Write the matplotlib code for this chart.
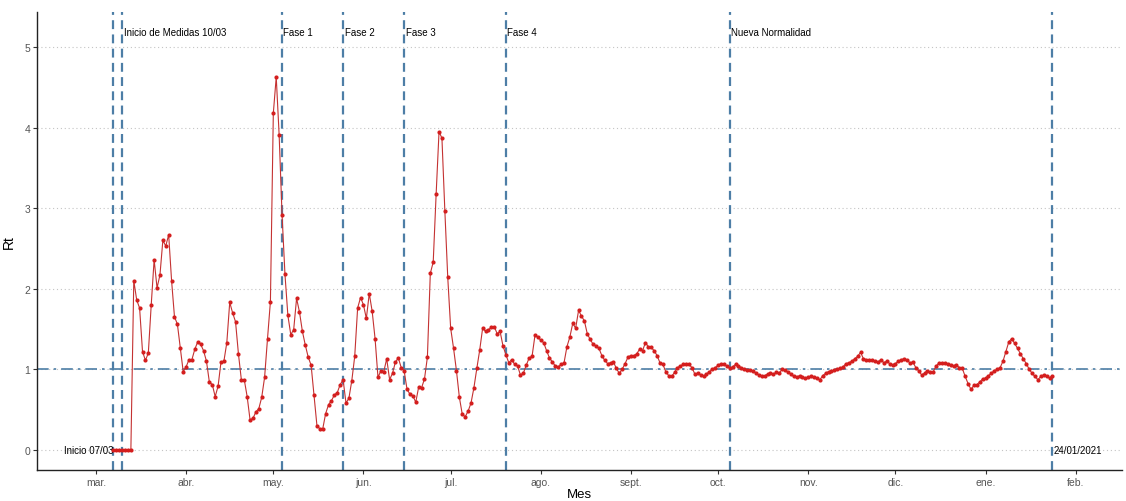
import matplotlib
matplotlib.use("Agg")
import matplotlib.pyplot as plt
import matplotlib.dates as mdates
import numpy as np

plt.rcParams["font.family"] = ["Liberation Sans", "DejaVu Sans"]

# daily Rt estimates, 07/03/2020 -> 24/01/2021
rt_mar = [0, 0, 0, 0, 0, 0, 0,
          2.10, 1.86, 1.76, 1.22, 1.11, 1.20, 1.80, 2.36, 2.01, 2.17, 2.60, 2.53,
          2.67, 2.10, 1.65, 1.56, 1.26, 0.97]
rt_abr = [1.03, 1.12, 1.12, 1.25, 1.34, 1.31, 1.23, 1.10, 0.84, 0.81,
          0.66, 0.79, 1.09, 1.10, 1.33, 1.83, 1.70, 1.59, 1.19, 0.87,
          0.87, 0.66, 0.37, 0.39, 0.47, 0.51, 0.65, 0.90, 1.38, 1.84]
rt_may = [4.18, 4.63, 3.91, 2.92, 2.18, 1.67, 1.43, 1.49, 1.88, 1.71,
          1.47, 1.30, 1.15, 1.05, 0.68, 0.30, 0.26, 0.26, 0.45, 0.56,
          0.61, 0.68, 0.71, 0.81, 0.87, 0.58, 0.64, 0.86, 1.16, 1.76, 1.89]
rt_jun = [1.80, 1.63, 1.94, 1.72, 1.38, 0.90, 0.98, 0.97, 1.13, 0.87,
          0.95, 1.09, 1.14, 1.02, 0.98, 0.75, 0.69, 0.67, 0.59, 0.78,
          0.77, 0.88, 1.15, 2.19, 2.33, 3.17, 3.95, 3.87, 2.97, 2.14]
rt_jul = [1.51, 1.26, 0.98, 0.65, 0.44, 0.41, 0.48, 0.58, 0.77, 1.01,
          1.24, 1.51, 1.47, 1.49, 1.52, 1.53, 1.44, 1.47, 1.29, 1.18,
          1.08, 1.12, 1.06, 1.04, 0.93, 0.95, 1.05, 1.14, 1.16, 1.42, 1.40]
rt_ago = [1.36, 1.33, 1.23, 1.14, 1.09, 1.04, 1.03, 1.06, 1.08, 1.28,
          1.40, 1.57, 1.51, 1.73, 1.66, 1.60, 1.44, 1.37, 1.31, 1.29,
          1.26, 1.17, 1.11, 1.07, 1.08, 1.09, 1.01, 0.95, 1.00, 1.07, 1.15]
rt_sep = [1.17, 1.17, 1.19, 1.25, 1.23, 1.33, 1.28, 1.27, 1.23, 1.17,
          1.08, 1.06, 0.97, 0.92, 0.91, 0.96, 1.02, 1.04, 1.06, 1.06,
          1.06, 1.02, 0.94, 0.95, 0.93, 0.91, 0.94, 0.97, 1.00, 1.02]
rt_oct = [1.05, 1.07, 1.06, 1.04, 1.01, 1.03, 1.06, 1.04, 1.02, 1.00,
          0.99, 0.99, 0.98, 0.95, 0.93, 0.91, 0.92, 0.94, 0.95, 0.94,
          0.96, 0.95, 1.00, 0.99, 0.96, 0.94, 0.91, 0.90, 0.92, 0.90, 0.89]
rt_nov = [0.90, 0.91, 0.90, 0.89, 0.87, 0.92, 0.95, 0.97, 0.98, 0.99,
          1.00, 1.01, 1.03, 1.07, 1.08, 1.10, 1.13, 1.16, 1.21, 1.13,
          1.12, 1.11, 1.11, 1.10, 1.09, 1.12, 1.08, 1.10, 1.07, 1.05]
rt_dic = [1.07, 1.10, 1.12, 1.13, 1.11, 1.08, 1.09, 1.02, 0.98, 0.93,
          0.95, 0.98, 0.97, 0.97, 1.04, 1.08, 1.08, 1.08, 1.07, 1.05,
          1.04, 1.05, 1.02, 1.01, 0.91, 0.82, 0.75, 0.80, 0.81, 0.84, 0.88]
rt_ene = [0.89, 0.92, 0.95, 0.98, 1.00, 1.02, 1.10, 1.22, 1.34, 1.38,
          1.32, 1.26, 1.19, 1.13, 1.07, 1.00, 0.95, 0.91, 0.87, 0.91,
          0.93, 0.91, 0.89, 0.92]

rt = np.array(rt_mar + rt_abr + rt_may + rt_jun + rt_jul + rt_ago + rt_sep
              + rt_oct + rt_nov + rt_dic + rt_ene)
fechas = np.arange(np.datetime64("2020-03-07"), np.datetime64("2021-01-25"))
assert len(fechas) == len(rt)

# key dates (vertical lines) and their labels
eventos = ["2020-03-07", "2020-03-10", "2020-05-04", "2020-05-25",
           "2020-06-15", "2020-07-20", "2020-10-05", "2021-01-24"]
etiquetas_arriba = {"2020-03-10": "Inicio de Medidas 10/03", "2020-05-04": "Fase 1",
                    "2020-05-25": "Fase 2", "2020-06-15": "Fase 3",
                    "2020-07-20": "Fase 4", "2020-10-05": "Nueva Normalidad"}

meses = ["mar.", "abr.", "may.", "jun.", "jul.", "ago.", "sept.", "oct.",
         "nov.", "dic.", "ene.", "feb."]
inicio_mes = np.arange(np.datetime64("2020-03"), np.datetime64("2021-03")).astype("datetime64[D]")

azul = "#4d7ea6"
rojo = "#d41e1e"

fig = plt.figure(figsize=(11.26, 5.02), dpi=100)
ax = fig.add_axes([0.0331, 0.0623, 0.963, 0.9124])

for y in range(6):
    ax.axhline(y, color="#c4c4c4", lw=0.8, ls=(0, (1, 2.5)), zorder=0)

for ev in eventos:
    ax.axvline(np.datetime64(ev), color=azul, lw=1.6, ls=(0, (4, 2.4)), zorder=1)
ax.axhline(1, color=azul, lw=1.2, ls=(0, (7, 3, 1.5, 3)), zorder=1)

ax.plot(fechas, rt, color="#c43232", lw=0.8, zorder=3)
ax.plot(fechas, rt, ls="none", marker="o", ms=3.0, color=rojo, mew=0, zorder=4)

for ev, txt in etiquetas_arriba.items():
    ax.text(np.datetime64(ev) + np.timedelta64(12, "h"), 5.19, txt,
            fontsize=7, va="center", ha="left", color="black")
ax.text(np.datetime64("2020-03-07"), 0, "Inicio 07/03", fontsize=7,
        va="center", ha="right", color="black")
ax.text(np.datetime64("2021-01-24") + np.timedelta64(12, "h"), 0, "24/01/2021",
        fontsize=7, va="center", ha="left", color="black")

ax.set_xlim(mdates.date2num(np.datetime64("2020-02-10")) - 0.2,
            mdates.date2num(np.datetime64("2021-02-16")) + 0.8)
ax.set_ylim(-0.248, 5.44)
ax.set_xticks(inicio_mes)
ax.set_xticklabels(meses)
ax.set_yticks(range(6))

for s in ["top", "right"]:
    ax.spines[s].set_visible(False)
for s in ["left", "bottom"]:
    ax.spines[s].set_linewidth(1.0)
    ax.spines[s].set_color("#222222")
ax.tick_params(axis="both", length=3, width=0.8, color="#333333",
               labelsize=7.5, labelcolor="#555555", pad=2)

ax.set_xlabel("Mes", fontsize=9.5, labelpad=1)
ax.set_ylabel("Rt", fontsize=10, labelpad=6)

fig.savefig("out.png", dpi=100)
